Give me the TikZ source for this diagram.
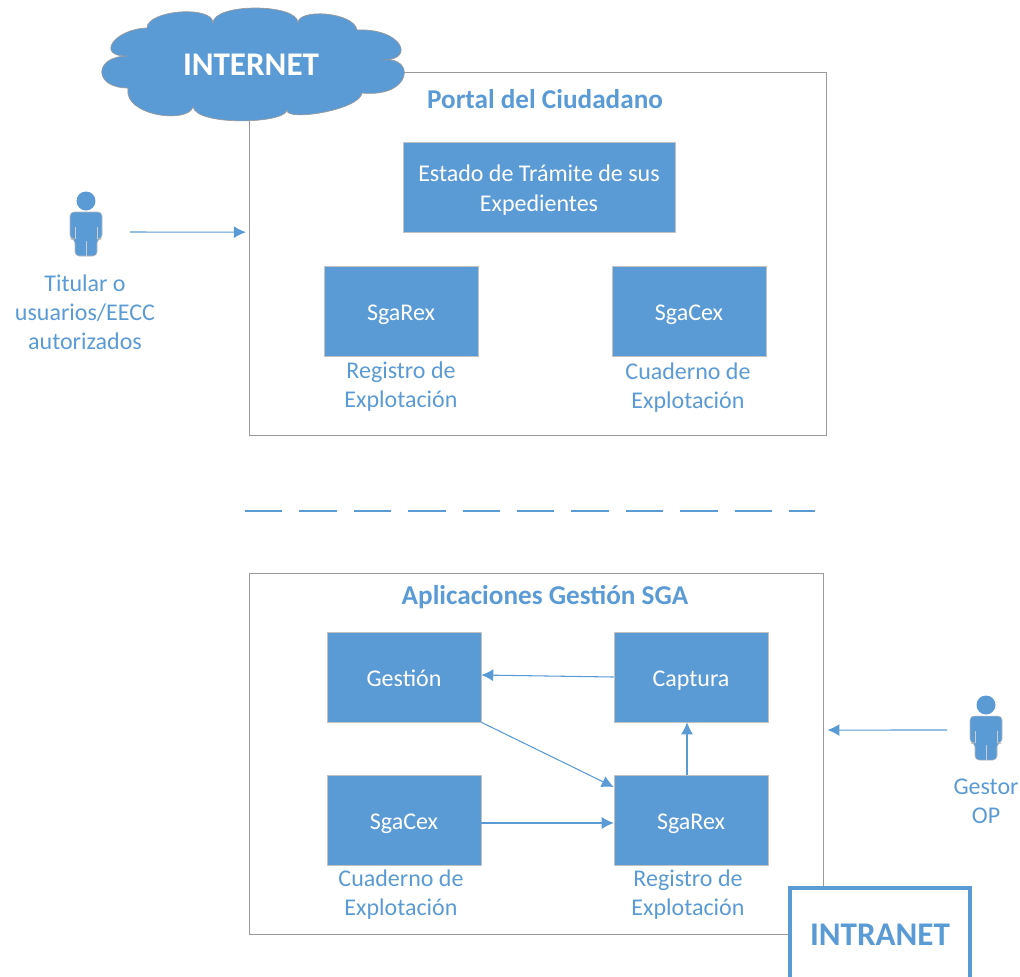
\documentclass[tikz,border=0pt]{standalone}
\usepackage{fontspec}
\setmainfont{Carlito}
\usetikzlibrary{arrows.meta}
\definecolor{azul}{HTML}{5B9BD5}
\definecolor{gris}{HTML}{999999}
\tikzset{
  bloque/.style={rectangle, draw=gris!60, fill=azul, text=white, inner sep=0pt, align=center, text depth=0pt, text height=14.5pt,
    minimum width=115.5pt, minimum height=67.5pt, font=\fontsize{18}{22.5}\selectfont},
  marco/.style={rectangle, draw=gris, line width=0.7pt, inner sep=0pt},
  rotulo/.style={text=azul, align=center, inner sep=0pt, font=\fontsize{18}{21.75}\selectfont},
  titulo/.style={text=azul, inner sep=0pt, font=\fontsize{20.4}{24}\selectfont\bfseries},
  flecha/.style={-{Latex[length=9pt,width=9pt]}, azul, line width=0.8pt},
  persona/.pic={
    \fill[azul] (0,0) circle (9.5);
    \fill[azul, draw=gris!70, line width=0.4pt, rounded corners=3pt]
      (-16,11) -- (16,11) -- (16,38) -- (11,38) -- (11,55) -- (-11,55) -- (-11,38) -- (-16,38) -- cycle;
    \draw[gris!50, line width=0.3pt] (-11,26) -- (-11,38) (11,26) -- (11,38) (0,40) -- (0,55);
  }
}
\begin{document}
\begin{tikzpicture}[x=0.75pt, y=-0.75pt]
  \useasboundingbox (0,0) rectangle (1020,976);
  \clip (0,0) rectangle (1020,976);
  % parte de arriba
  \node[marco, minimum width=432.75pt, minimum height=272.25pt] (portal) at (537.5,253.5) {};
  \fill[azul, draw=gris, line width=0.5pt] (147,28)
    .. controls (147,10) and (213,5) .. (213,23)
    .. controls (213,3) and (298,3) .. (298,23)
    .. controls (298,8) and (354,12) .. (357,30)
    .. controls (402,28) and (416,60) .. (383,60)
    .. controls (416,56) and (412,98) .. (362,93)
    .. controls (360,110) and (285,122) .. (287,110)
    .. controls (285,124) and (197,126) .. (193,107)
    .. controls (188,124) and (123,116) .. (128,88)
    .. controls (93,88) and (93,56) .. (128,56)
    .. controls (95,57) and (114,29) .. (147,28) -- cycle;
  \node[text=white, inner sep=0pt, font=\fontsize{24.8}{28}\selectfont\bfseries] (internet) at (251,65) {INTERNET};
  \node[titulo] (tportal) at (545,99) {Portal del Ciudadano};
  \node[bloque, minimum width=204pt, text height=37pt] (estado) at (539,187) {Estado de Trámite de sus\\Expedientes};
  \node[bloque] (rex1) at (401,311) {SgaRex};
  \node[bloque] (cex1) at (689,311) {SgaCex};
  \node[rotulo] (lrex1) at (401,387) {Registro de\\Explotación};
  \node[rotulo] (lcex1) at (688,388) {Cuaderno de\\Explotación};
  \pic at (86,201) {persona};
  \node[rotulo] (ltitular) at (85,312) {Titular o\\usuarios/EECC\\autorizados};
  \coordinate (titular) at (130,232);
  \draw[flecha, shorten >=2pt] (titular) -- ([yshift=16pt]portal.west);
  % separacion
  \coordinate (sep1) at (245,511);
  \coordinate (sep2) at (815,511);
  \draw[azul, line width=2.2pt, dash pattern=on 28pt off 12.8pt] (sep1) -- (sep2);
  % parte de abajo
  \node[marco, minimum width=430.5pt, minimum height=270.75pt] (aplic) at (536,753.5) {};
  \node[titulo] (taplic) at (545,597) {Aplicaciones Gestión SGA};
  \node[bloque] (gestion) at (404,677) {Gestión};
  \node[bloque] (captura) at (691,677) {Captura};
  \node[bloque] (cex2) at (404,820) {SgaCex};
  \node[bloque] (rex2) at (691,820) {SgaRex};
  \node[rotulo] (lcex2) at (401,895) {Cuaderno de\\Explotación};
  \node[rotulo] (lrex2) at (688,895) {Registro de\\Explotación};
  \pic at (986,705) {persona};
  \node[rotulo] (lgestor) at (986,801) {Gestor\\OP};
  \coordinate (gestor) at (947,730);
  \draw[flecha, shorten >=3pt] (gestor) -- ([yshift=17.6pt]aplic.east);
  \draw[flecha] (captura.west) -- ([yshift=1.5pt]gestion.east);
  \draw[flecha] (gestion.south east) -- ([yshift=24.75pt]rex2.west);
  \draw[flecha] ([yshift=-2.25pt]cex2.east) -- ([yshift=-2.25pt]rex2.west);
  \draw[flecha] ([xshift=-3pt]rex2.north) -- ([xshift=-3pt]captura.south);
  \node[rectangle, draw=azul, line width=3.6pt, fill=white, text=azul, minimum width=135pt, minimum height=90pt, inner sep=0pt] (intranet) at (880,948) {};
  \node[text=azul, inner sep=0pt, font=\fontsize{24.8}{28}\selectfont\bfseries] (lintranet) at (880,935) {INTRANET};
\end{tikzpicture}
\end{document}
